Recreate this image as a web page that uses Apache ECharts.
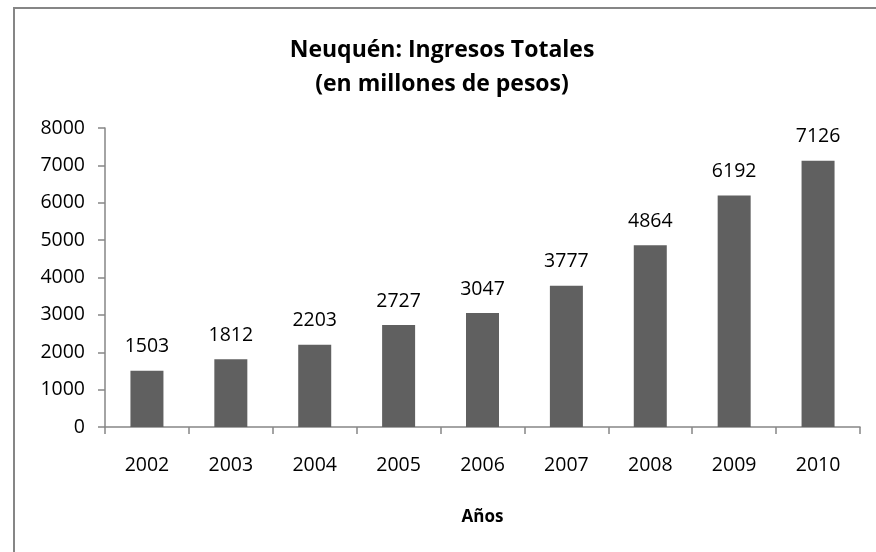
<!DOCTYPE html>
<html>
<head>
<meta charset="utf-8">
<script src="https://cdn.jsdelivr.net/npm/echarts@6/dist/echarts.min.js"></script>
<style>
  html, body { margin: 0; padding: 0; background: #fff; }
  #chart { width: 876px; height: 552px; }
</style>
</head>
<body>
<div id="chart"></div>
<script>
const years = ['2002', '2003', '2004', '2005', '2006', '2007', '2008', '2009', '2010'];
const ingresos = [1503, 1812, 2203, 2727, 3047, 3777, 4864, 6192, 7126];
const titleLines = ['Neuquén: Ingresos Totales', '(en millones de pesos)'];
const xAxisName = 'Años';

const font = '"Open Sans", "Liberation Sans", sans-serif';
const axisGrey = '#868686';

const chart = echarts.init(document.getElementById('chart'));
chart.setOption({
  animation: false,
  backgroundColor: '#fff',
  textStyle: { fontFamily: font },
  graphic: [{
    type: 'rect',
    shape: { x: 14, y: 8, width: 900, height: 600 },
    style: { fill: 'none', stroke: axisGrey, lineWidth: 2 },
    silent: true
  }],
  title: {
    text: titleLines.join('\n'),
    left: 437,
    textAlign: 'center',
    top: 28,
    textStyle: {
      fontFamily: font,
      fontSize: 23,
      fontWeight: 'bold',
      color: '#000',
      lineHeight: 34
    }
  },
  grid: { left: 105, right: 16, top: 128, bottom: 125, containLabel: false },
  xAxis: {
    type: 'category',
    data: years,
    name: xAxisName,
    nameLocation: 'middle',
    nameGap: 82,
    nameTextStyle: { fontFamily: font, fontSize: 17, fontWeight: 'bold', color: '#000' },
    axisLine: { lineStyle: { color: axisGrey, width: 1.5 } },
    axisTick: { show: true, alignWithLabel: false, length: 7, lineStyle: { color: axisGrey, width: 1.5 } },
    axisLabel: { fontFamily: font, fontSize: 19.5, color: '#000', margin: 28 }
  },
  yAxis: {
    type: 'value',
    min: 0,
    max: 8000,
    interval: 1000,
    axisLine: { show: true, lineStyle: { color: axisGrey, width: 1.5 } },
    axisTick: { show: true, length: 7, lineStyle: { color: axisGrey, width: 1.5 } },
    splitLine: { show: false },
    axisLabel: { fontFamily: font, fontSize: 19.5, color: '#000', margin: 20, formatter: v => String(v) }
  },
  series: [{
    type: 'bar',
    data: ingresos,
    barWidth: 33,
    itemStyle: { color: '#606060' },
    label: {
      show: true,
      position: 'top',
      distance: 14,
      fontFamily: font,
      fontSize: 19.5,
      color: '#000'
    }
  }]
});
</script>
</body>
</html>
